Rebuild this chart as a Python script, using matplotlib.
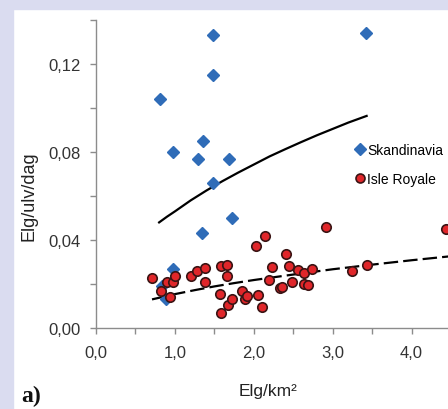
import matplotlib.pyplot as plt
from matplotlib.patches import Rectangle
from matplotlib.ticker import FixedLocator, FuncFormatter

# Skandinavia (blue diamonds)
skand_x = [1.48, 1.48, 0.81, 1.35, 0.97, 1.29, 1.48, 3.42, 1.69, 1.73, 1.34, 0.97, 0.84, 0.89]
skand_y = [0.133, 0.115, 0.104, 0.085, 0.080, 0.077, 0.066, 0.134, 0.077, 0.050, 0.043, 0.027, 0.019, 0.013]

# Isle Royale (red circles)
isle_x = [0.71, 0.82, 0.90, 0.97, 1.00, 0.94, 1.20, 1.28, 1.38, 1.38,
          1.58, 1.66, 1.66, 1.57, 1.59, 1.67, 1.72, 1.85, 1.89, 1.91,
          2.03, 2.05, 2.10, 2.14, 2.23, 2.19, 2.33, 2.36, 2.41, 2.45,
          2.49, 2.56, 2.63, 2.63, 2.69, 2.74, 2.92, 3.24, 3.44, 4.43]
isle_y = [0.0226, 0.0167, 0.0208, 0.0208, 0.0235, 0.0140, 0.0235, 0.0258, 0.0271, 0.0208,
          0.0280, 0.0285, 0.0235, 0.0154, 0.0070, 0.0104, 0.0131, 0.0167, 0.0131, 0.0145,
          0.0371, 0.0149, 0.0095, 0.0416, 0.0278, 0.0217, 0.0180, 0.0185, 0.0337, 0.0280,
          0.0208, 0.0262, 0.0251, 0.0199, 0.0194, 0.0267, 0.0461, 0.0258, 0.0285, 0.0452]

# trend lines
skand_fit_x = [0.80, 0.9, 1.0, 1.2, 1.4, 1.6, 1.8, 2.0, 2.2, 2.4, 2.6, 2.8, 3.0, 3.2, 3.43]
skand_fit_y = [0.0480, 0.0506, 0.0530, 0.0580, 0.0625, 0.0667, 0.0706, 0.0743, 0.0780,
               0.0813, 0.0845, 0.0876, 0.0905, 0.0934, 0.0964]
isle_fit_x = [0.71, 1.0, 1.25, 1.5, 1.75, 2.0, 2.5, 3.0, 3.5, 4.0, 4.6]
isle_fit_y = [0.0130, 0.0154, 0.0172, 0.0189, 0.0204, 0.0218, 0.0243, 0.0267, 0.0288,
              0.0308, 0.0330]

x_ticks = [0, 0.5, 1, 1.5, 2, 2.5, 3, 3.5, 4, 4.5]
y_ticks = [0, 0.02, 0.04, 0.06, 0.08, 0.10, 0.12, 0.14]

plt.rcParams['font.family'] = ['Liberation Sans', 'DejaVu Sans']

W, H = 448, 410
fig = plt.figure(figsize=(W / 100, H / 100), dpi=100, facecolor='white')

# lavender frame on top and left
lav = '#dadcf0'
fig.patches.append(Rectangle((0, 1 - 10 / H), 1, 10 / H, transform=fig.transFigure,
                             color=lav, zorder=0))
fig.patches.append(Rectangle((0, 0), 13 / W, 1, transform=fig.transFigure,
                             color=lav, zorder=0))

x0, y0 = 96, 329
xs, ys = 78.9, 2200.0
ax = fig.add_axes([x0 / W, (H - y0) / H, 5 * xs / W, 0.14 * ys / H])
ax.set_xlim(0, 5)
ax.set_ylim(0, 0.14)

ax.plot(skand_fit_x, skand_fit_y, color='black', lw=1.6, zorder=2)
ax.plot(isle_fit_x, isle_fit_y, color='black', lw=1.6, dashes=(6.5, 2.3), zorder=2)

ax.plot(skand_x, skand_y, 'D', ms=6.6, color='#2f6cb8', mec='#2f6cb8', ls='none',
        label='Skandinavia', zorder=3)
ax.plot(isle_x, isle_y, 'o', ms=6.8, color='#e0262a', mec='#3a1414', mew=1.2, ls='none',
        label='Isle Royale', zorder=4, clip_on=False)

for side in ['top', 'right']:
    ax.spines[side].set_visible(False)
for side in ['left', 'bottom']:
    ax.spines[side].set_color('#8c8c8c')
    ax.spines[side].set_linewidth(1.0)

ax.xaxis.set_major_locator(FixedLocator(x_ticks))
ax.yaxis.set_major_locator(FixedLocator(y_ticks))
ax.xaxis.set_major_formatter(FuncFormatter(
    lambda v, p: f'{v:.1f}'.replace('.', ',') if abs(v - round(v)) < 1e-6 else ''))
ax.yaxis.set_major_formatter(FuncFormatter(
    lambda v, p: f'{v:.2f}'.replace('.', ',') if round(v * 100) % 4 == 0 and v < 0.135 else ''))
ax.tick_params(colors='#8c8c8c', labelcolor='#333333', labelsize=12, length=4, width=1.0)
ax.tick_params(axis='x', pad=8)
ax.tick_params(axis='y', pad=7)

ax.legend(loc='upper left', bbox_to_anchor=(350 / W, 1 - 137 / H),
          bbox_transform=fig.transFigure, frameon=False, fontsize=10,
          handlelength=0.5, handletextpad=0.25, labelspacing=1.1, borderpad=0,
          markerscale=0.95)

fig.text(268 / W, 1 - 392 / H, 'Elg/km²', ha='center', va='center', fontsize=12.5,
         color='#222222')
fig.text(29 / W, 1 - 196 / H, 'Elg/ulv/dag', ha='center', va='center', rotation=90,
         fontsize=13, color='#222222')
fig.text(21 / W, 1 - 396 / H, 'a)', ha='left', va='center', fontsize=17,
         fontweight='bold', family='Liberation Serif', color='#111111')

fig.savefig('out.png', dpi=100, facecolor='white')
